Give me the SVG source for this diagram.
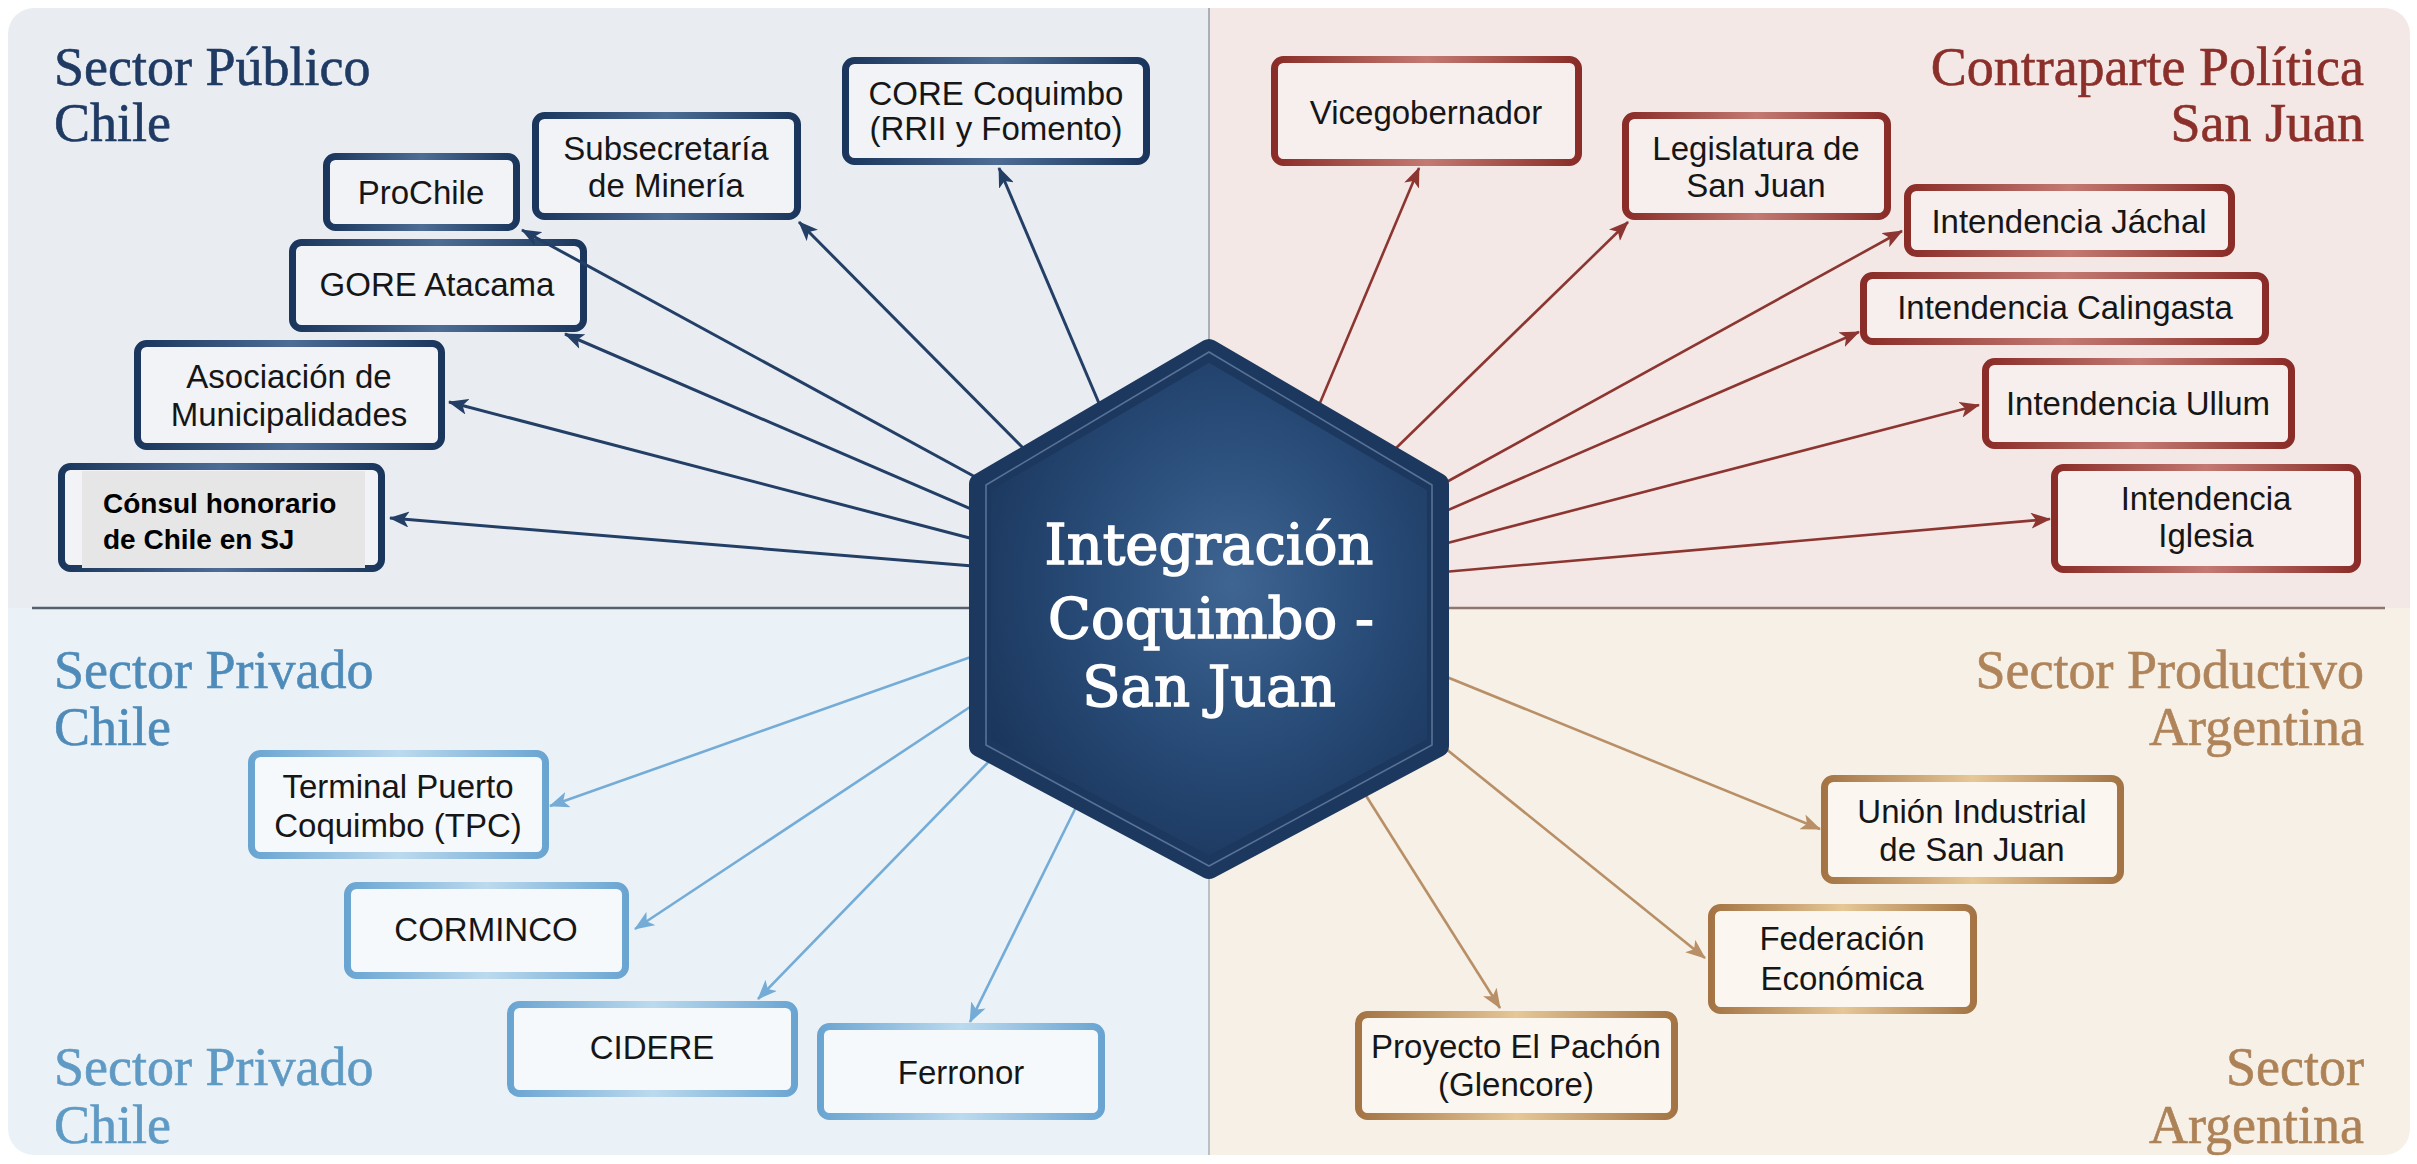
<svg xmlns="http://www.w3.org/2000/svg" width="2417" height="1164" viewBox="0 0 2417 1164">
<defs>
  <clipPath id="panel"><rect x="8" y="8" width="2402" height="1147" rx="26"/></clipPath>
  <linearGradient id="gNavy" x1="0" y1="0" x2="1" y2="0">
    <stop offset="0" stop-color="#1b365c"/><stop offset="0.5" stop-color="#4d6d95"/><stop offset="1" stop-color="#1b365c"/>
  </linearGradient>
  <linearGradient id="gRed" x1="0" y1="0" x2="1" y2="0">
    <stop offset="0" stop-color="#8a2c28"/><stop offset="0.5" stop-color="#c27a72"/><stop offset="1" stop-color="#8a2c28"/>
  </linearGradient>
  <linearGradient id="gBlue" x1="0" y1="0" x2="1" y2="0">
    <stop offset="0" stop-color="#6aa5d2"/><stop offset="0.5" stop-color="#bcdaee"/><stop offset="1" stop-color="#6aa5d2"/>
  </linearGradient>
  <linearGradient id="gTan" x1="0" y1="0" x2="1" y2="0">
    <stop offset="0" stop-color="#a47444"/><stop offset="0.5" stop-color="#e6c796"/><stop offset="1" stop-color="#a47444"/>
  </linearGradient>
  <radialGradient id="gHex" cx="0.55" cy="0.45" r="0.6">
    <stop offset="0" stop-color="#3f6592"/><stop offset="0.55" stop-color="#274a76"/><stop offset="1" stop-color="#1b365c"/>
  </radialGradient>
  <marker id="aNavy" markerUnits="userSpaceOnUse" markerWidth="20" markerHeight="16" refX="19" refY="8" orient="auto"><path d="M0,0 L20,8 L0,16 L5,8 Z" fill="#233f66"/></marker>
  <marker id="aRed" markerUnits="userSpaceOnUse" markerWidth="20" markerHeight="16" refX="19" refY="8" orient="auto"><path d="M0,0 L20,8 L0,16 L5,8 Z" fill="#8c3531"/></marker>
  <marker id="aBlue" markerUnits="userSpaceOnUse" markerWidth="20" markerHeight="16" refX="19" refY="8" orient="auto"><path d="M0,0 L20,8 L0,16 L5,8 Z" fill="#74acd7"/></marker>
  <marker id="aTan" markerUnits="userSpaceOnUse" markerWidth="20" markerHeight="16" refX="19" refY="8" orient="auto"><path d="M0,0 L20,8 L0,16 L5,8 Z" fill="#b88f66"/></marker>
</defs>
<style>
  .box { stroke-width: 7; }
  .tl .box { fill: #f1f3f6; stroke: url(#gNavy); }
  .tr .box { fill: #f7efed; stroke: url(#gRed); }
  .bl .box { fill: #f5f9fc; stroke: url(#gBlue); }
  .br .box { fill: #fbf7f0; stroke: url(#gTan); }
  .lbl { font-family: "Liberation Sans", Arial, sans-serif; font-size: 33px; fill: #161616; text-anchor: middle; }
  .sec { font-family: "Liberation Serif", "Times New Roman", serif; font-size: 54px; stroke-width: 0.6; }
  .cn line { stroke: #233f66; stroke-width: 3; marker-end: url(#aNavy); }
  .cr line { stroke: #8c3531; stroke-width: 2.6; marker-end: url(#aRed); }
  .cb line { stroke: #74acd7; stroke-width: 2.6; marker-end: url(#aBlue); }
  .ct line { stroke: #b88f66; stroke-width: 2.6; marker-end: url(#aTan); }
</style>
<rect width="2417" height="1164" fill="#ffffff"/>
<g id="background" clip-path="url(#panel)">
  <rect x="0" y="0" width="1209" height="608" fill="#e9edf2"/>
  <rect x="1209" y="0" width="1208" height="608" fill="#f3e8e5"/>
  <rect x="0" y="608" width="1209" height="556" fill="#eaf2f7"/>
  <rect x="1209" y="608" width="1208" height="556" fill="#f6f0e6"/>
  <line x1="1209" y1="8" x2="1209" y2="340" stroke="#a9b0b8" stroke-width="2"/>
  <line x1="1209" y1="878" x2="1209" y2="1155" stroke="#b9c0c6" stroke-width="2"/>
  <line x1="32" y1="608" x2="975" y2="608" stroke="#56606c" stroke-width="2.5"/>
  <line x1="1445" y1="608" x2="2385" y2="608" stroke="#8f7672" stroke-width="2.5"/>
</g>
<g id="titles">
  <text class="sec" x="54" y="85" fill="#1f3a63" stroke="#1f3a63">Sector Público</text>
  <text class="sec" x="54" y="141" fill="#1f3a63" stroke="#1f3a63">Chile</text>
  <text class="sec" x="2364" y="85" fill="#8b2f2a" stroke="#8b2f2a" text-anchor="end">Contraparte Política</text>
  <text class="sec" x="2364" y="141" fill="#8b2f2a" stroke="#8b2f2a" text-anchor="end">San Juan</text>
  <text class="sec" x="54" y="688" fill="#4f8bb9" stroke="#4f8bb9">Sector Privado</text>
  <text class="sec" x="54" y="745" fill="#4f8bb9" stroke="#4f8bb9">Chile</text>
  <text class="sec" x="54" y="1085" fill="#5f9ac4" stroke="#5f9ac4">Sector Privado</text>
  <text class="sec" x="54" y="1143" fill="#5f9ac4" stroke="#5f9ac4">Chile</text>
  <text class="sec" x="2364" y="688" fill="#b0845a" stroke="#b0845a" text-anchor="end">Sector Productivo</text>
  <text class="sec" x="2364" y="745" fill="#b0845a" stroke="#b0845a" text-anchor="end">Argentina</text>
  <text class="sec" x="2364" y="1085" fill="#ad8257" stroke="#ad8257" text-anchor="end">Sector</text>
  <text class="sec" x="2364" y="1143" fill="#ad8257" stroke="#ad8257" text-anchor="end">Argentina</text>
</g>
<g id="nodes">
  <g id="n-core" class="tl"><rect class="box" x="845.5" y="60.5" width="301" height="101" rx="9"/><text class="lbl" x="996" y="105">CORE Coquimbo</text><text class="lbl" x="996" y="140">(RRII y Fomento)</text></g>
  <g id="n-subsecretaria" class="tl"><rect class="box" x="535.5" y="115.5" width="262" height="101" rx="9"/><text class="lbl" x="666" y="160">Subsecretaría</text><text class="lbl" x="666" y="197">de Minería</text></g>
  <g id="n-prochile" class="tl"><rect class="box" x="326.5" y="156.5" width="190" height="71" rx="9"/><text class="lbl" x="421" y="204">ProChile</text></g>
  <g id="n-gore" class="tl"><rect class="box" x="292.5" y="242.5" width="291" height="86" rx="9"/><text class="lbl" x="437" y="296">GORE Atacama</text></g>
  <g id="n-asociacion" class="tl"><rect class="box" x="137.5" y="343.5" width="304" height="103" rx="9"/><text class="lbl" x="289" y="388">Asociación de</text><text class="lbl" x="289" y="426">Municipalidades</text></g>
  <g id="n-consul" class="tl"><rect class="box" x="61.5" y="466.5" width="320" height="102" rx="9"/><rect x="82" y="471" width="283" height="97" fill="#e6e6e6"/><text x="103" y="513" font-family="'Liberation Sans', Arial, sans-serif" font-weight="bold" font-size="28" fill="#000">Cónsul honorario</text><text x="103" y="549" font-family="'Liberation Sans', Arial, sans-serif" font-weight="bold" font-size="28" fill="#000">de Chile en SJ</text></g>

  <g id="n-vice" class="tr"><rect class="box" x="1274.5" y="59.5" width="304" height="103" rx="9"/><text class="lbl" x="1426" y="124">Vicegobernador</text></g>
  <g id="n-legislatura" class="tr"><rect class="box" x="1625.5" y="115.5" width="262" height="101" rx="9"/><text class="lbl" x="1756" y="160">Legislatura de</text><text class="lbl" x="1756" y="197">San Juan</text></g>
  <g id="n-jachal" class="tr"><rect class="box" x="1907.5" y="187.5" width="324" height="66" rx="9"/><text class="lbl" x="2069" y="233">Intendencia Jáchal</text></g>
  <g id="n-calingasta" class="tr"><rect class="box" x="1863.5" y="275.5" width="402" height="66" rx="9"/><text class="lbl" x="2065" y="319">Intendencia Calingasta</text></g>
  <g id="n-ullum" class="tr"><rect class="box" x="1985.5" y="361.5" width="306" height="84" rx="9"/><text class="lbl" x="2138" y="415">Intendencia Ullum</text></g>
  <g id="n-iglesia" class="tr"><rect class="box" x="2054.5" y="467.5" width="303" height="102" rx="9"/><text class="lbl" x="2206" y="510">Intendencia</text><text class="lbl" x="2206" y="547">Iglesia</text></g>

  <g id="n-tpc" class="bl"><rect class="box" x="251.5" y="753.5" width="294" height="102" rx="9"/><text class="lbl" x="398" y="798">Terminal Puerto</text><text class="lbl" x="398" y="837">Coquimbo (TPC)</text></g>
  <g id="n-corminco" class="bl"><rect class="box" x="347.5" y="885.5" width="278" height="90" rx="9"/><text class="lbl" x="486" y="941">CORMINCO</text></g>
  <g id="n-cidere" class="bl"><rect class="box" x="510.5" y="1004.5" width="284" height="89" rx="9"/><text class="lbl" x="652" y="1059">CIDERE</text></g>
  <g id="n-ferronor" class="bl"><rect class="box" x="820.5" y="1026.5" width="281" height="90" rx="9"/><text class="lbl" x="961" y="1084">Ferronor</text></g>

  <g id="n-union" class="br"><rect class="box" x="1824.5" y="778.5" width="296" height="102" rx="9"/><text class="lbl" x="1972" y="823">Unión Industrial</text><text class="lbl" x="1972" y="861">de San Juan</text></g>
  <g id="n-federacion" class="br"><rect class="box" x="1711.5" y="907.5" width="262" height="103" rx="9"/><text class="lbl" x="1842" y="950">Federación</text><text class="lbl" x="1842" y="990">Económica</text></g>
  <g id="n-pachon" class="br"><rect class="box" x="1358.5" y="1014.5" width="316" height="102" rx="9"/><text class="lbl" x="1516" y="1058">Proyecto El Pachón</text><text class="lbl" x="1516" y="1096">(Glencore)</text></g>
</g>
<g id="connectors">
  <g class="cn">
    <line x1="1104" y1="415" x2="999" y2="168"/>
    <line x1="1035" y1="460" x2="799" y2="222"/>
    <line x1="990" y1="485" x2="522" y2="230"/>
    <line x1="985" y1="515" x2="565" y2="334"/>
    <line x1="985" y1="542" x2="449" y2="402"/>
    <line x1="985" y1="567" x2="390" y2="518"/>
  </g>
  <g class="cr">
    <line x1="1317" y1="410" x2="1419" y2="168"/>
    <line x1="1390" y1="454" x2="1628" y2="222"/>
    <line x1="1432" y1="490" x2="1902" y2="231"/>
    <line x1="1432" y1="517" x2="1859" y2="332"/>
    <line x1="1432" y1="547" x2="1979" y2="405"/>
    <line x1="1432" y1="573" x2="2050" y2="519"/>
  </g>
  <g class="cb">
    <line x1="985" y1="652" x2="550" y2="806"/>
    <line x1="982" y1="699" x2="635" y2="929"/>
    <line x1="1002" y1="748" x2="758" y2="999"/>
    <line x1="1082" y1="795" x2="970" y2="1022"/>
  </g>
  <g class="ct">
    <line x1="1432" y1="671" x2="1820" y2="829"/>
    <line x1="1430" y1="736" x2="1705" y2="958"/>
    <line x1="1358" y1="783" x2="1500" y2="1008"/>
  </g>
</g>
<g id="hub">
  <polygon points="1209,350 1438,484 1438,746 1209,868 980,746 980,484" fill="url(#gHex)" stroke="#1c385f" stroke-width="22" stroke-linejoin="round"/>
  <polygon points="1209,352 1432,485 1432,745 1209,866 986,745 986,485" fill="none" stroke="#8aa3c2" stroke-opacity="0.55" stroke-width="1.6" stroke-linejoin="round"/>
  <g font-family="'DejaVu Serif', 'Liberation Serif', serif" font-size="56" fill="#ffffff" stroke="#ffffff" stroke-width="1.5" text-anchor="middle">
    <text x="1209" y="564">Integración</text>
    <text x="1211" y="638">Coquimbo -</text>
    <text x="1209" y="706">San Juan</text>
  </g>
</g>
</svg>
